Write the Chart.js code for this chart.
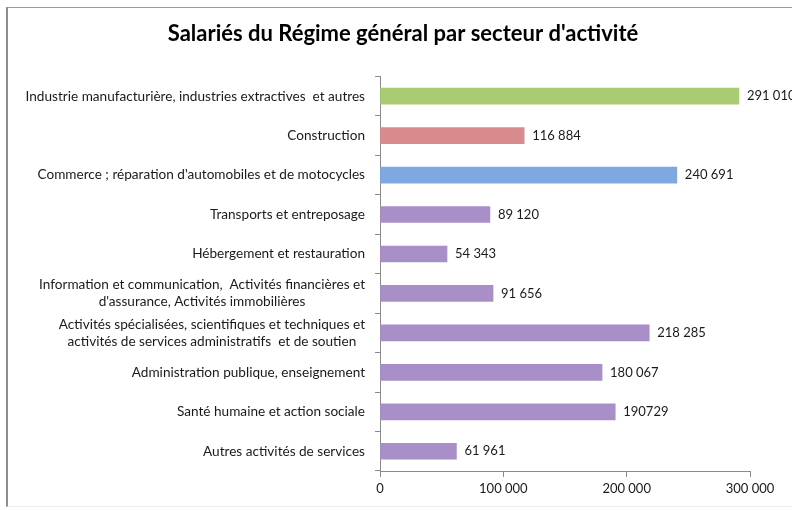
<!DOCTYPE html>
<html>
<head>
<meta charset="utf-8">
<script src="https://cdn.jsdelivr.net/npm/chart.js@4/dist/chart.umd.min.js"></script>
<style>
  html, body { margin: 0; padding: 0; background: #fff; }
  #wrap { position: relative; width: 792px; height: 510px; overflow: hidden; }
  #frame { position: absolute; left: 6px; top: 7px; width: 820px; height: 498px;
           border-left: 2px solid #8c8c8c; border-top: 1px solid #9a9a9a; border-bottom: 1px solid #ececec; }
  canvas { position: absolute; left: 0; top: 0; }
</style>
</head>
<body>
<div id="wrap">
  <div id="frame"></div>
  <canvas id="chart" width="792" height="510"></canvas>
</div>
<script>
// Data
const categories = [
  ['Industrie manufacturière, industries extractives  et autres'],
  ['Construction'],
  ["Commerce ; réparation d'automobiles et de motocycles"],
  ['Transports et entreposage'],
  ['Hébergement et restauration'],
  ['Information et communication,  Activités financières et', "d'assurance, Activités immobilières"],
  ['Activités spécialisées, scientifiques et techniques et', 'activités de services administratifs  et de soutien'],
  ['Administration publique, enseignement'],
  ['Santé humaine et action sociale'],
  ['Autres activités de services']
];
const salaries = [291010, 116884, 240691, 89120, 54343, 91656, 218285, 180067, 190729, 61961];
const valueLabels = ['291 010', '116 884', '240 691', '89 120', '54 343', '91 656', '218 285', '180 067', '190729', '61 961'];
const barColours = ['#a9cc72', '#d98a8d', '#7ea8e0', '#a98fc8', '#a98fc8', '#a98fc8', '#a98fc8', '#a98fc8', '#a98fc8', '#a98fc8'];
const xTicks = [0, 100000, 200000, 300000];

const FONT = 'Lato, "Open Sans", sans-serif';
const TEXT = '#1a1a1a';

// draws category labels (right aligned, multi-line blocks centred) and the value labels
const labelPlugin = {
  id: 'labelPlugin',
  afterDraw(chart) {
    const ctx = chart.ctx;
    const yScale = chart.scales.y;
    ctx.save();
    ctx.font = '13.6px ' + FONT;
    ctx.fillStyle = TEXT;
    ctx.textBaseline = 'middle';
    const rightEdge = yScale.right - 15;
    categories.forEach((lines, i) => {
      const yc = yScale.getPixelForTick(i);
      const lh = 17;
      if (lines.length === 1) {
        ctx.textAlign = 'right';
        ctx.fillText(lines[0], rightEdge, yc);
      } else {
        const widest = Math.max(...lines.map(l => ctx.measureText(l).width));
        ctx.textAlign = 'center';
        lines.forEach((l, k) => {
          ctx.fillText(l, rightEdge - widest / 2, yc + (k - (lines.length - 1) / 2) * lh);
        });
      }
    });

    ctx.font = '13px ' + FONT;
    ctx.textAlign = 'left';
    const meta = chart.getDatasetMeta(0);
    meta.data.forEach((bar, i) => {
      ctx.fillText(valueLabels[i], bar.x + 8, bar.y);
    });
    ctx.restore();
  }
};

new Chart(document.getElementById('chart'), {
  type: 'bar',
  data: {
    labels: categories.map(c => c.join(' ')),
    datasets: [{
      data: salaries,
      backgroundColor: barColours,
      borderWidth: 0,
      barThickness: 16
    }]
  },
  plugins: [labelPlugin],
  options: {
    indexAxis: 'y',
    responsive: false,
    animation: false,
    layout: { padding: { left: 56, right: 42, top: 0, bottom: 0 } },
    scales: {
      x: {
        min: 0,
        max: 300000,
        afterBuildTicks: (axis) => { axis.ticks = xTicks.map(v => ({ value: v })); },
        afterFit: (axis) => { axis.height = 39; },
        grid: { drawOnChartArea: false, drawTicks: true, tickLength: 6, color: '#8a8a8a' },
        border: { color: '#8a8a8a', width: 1 },
        ticks: {
          padding: 4,
          color: TEXT,
          font: { family: FONT, size: 13 },
          callback: (v) => String(v).replace(/\B(?=(\d{3})+(?!\d))/g, ' ')
        }
      },
      y: {
        afterFit: (axis) => { axis.width = 324; },
        grid: { offset: true, drawOnChartArea: false, drawTicks: true, tickLength: 5, color: '#8a8a8a' },
        border: { color: '#8a8a8a', width: 1 },
        ticks: { display: false }
      }
    },
    plugins: {
      legend: { display: false },
      tooltip: { enabled: false },
      title: {
        display: true,
        text: "Salariés du Régime général par secteur d'activité",
        color: '#000',
        font: { family: FONT, size: 22, weight: 'bold' },
        padding: { top: 21, bottom: 29 }
      }
    }
  }
});
</script>
</body>
</html>
